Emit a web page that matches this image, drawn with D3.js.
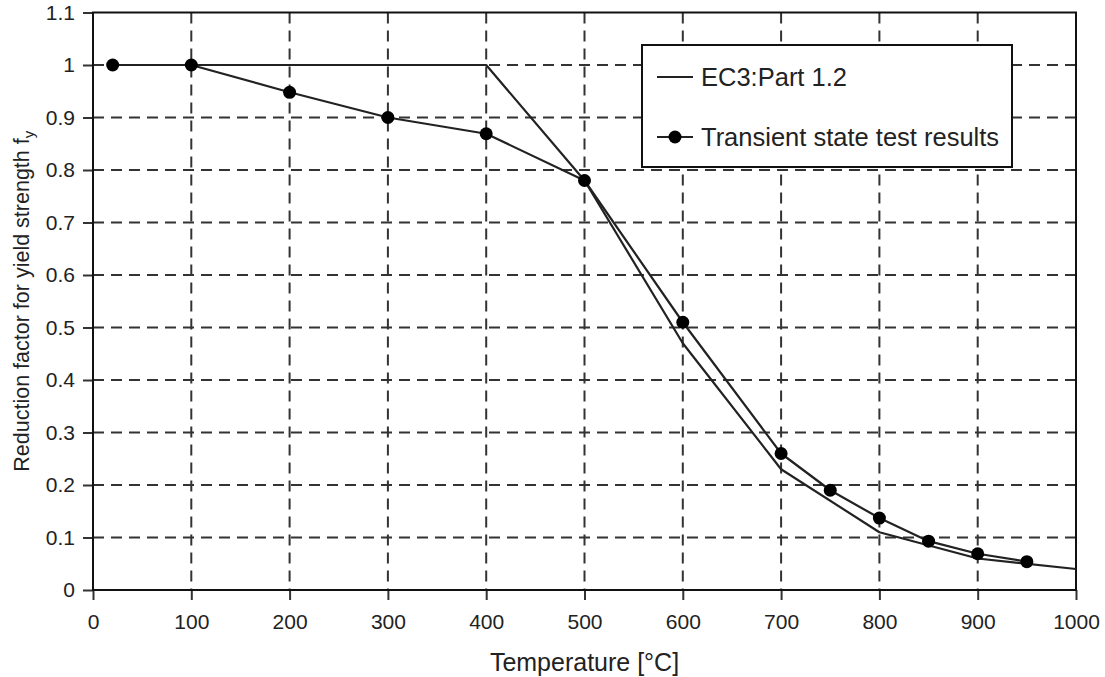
<!DOCTYPE html>
<html>
<head>
<meta charset="utf-8">
<script src="https://cdn.jsdelivr.net/npm/d3@7"></script>
<style>
  body { margin: 0; background: #fff; }
  svg text { font-family: "Liberation Sans", Arial, sans-serif; fill: #222; }
</style>
</head>
<body>
<div id="chart"></div>
<script>
// EC3 Part 1.2 reduction factor
var ec3Temp = [20, 100, 400, 500, 600, 700, 800, 900, 1000];
var ec3Value = [1, 1, 1, 0.78, 0.47, 0.23, 0.11, 0.06, 0.04];

// transient state test results
var testTemp = [20, 100, 200, 300, 400, 500, 600, 700, 750, 800, 850, 900, 950];
var testValue = [1, 1, 0.948, 0.90, 0.869, 0.78, 0.51, 0.26, 0.19, 0.137, 0.093, 0.069, 0.054];

var xTicks = [0, 100, 200, 300, 400, 500, 600, 700, 800, 900, 1000];
var yTicks = [0, 0.1, 0.2, 0.3, 0.4, 0.5, 0.6, 0.7, 0.8, 0.9, 1, 1.1];

var margin = {top: 12.5, right: 29, bottom: 87, left: 93},
    width = 1105 - margin.left - margin.right,
    height = 677 - margin.top - margin.bottom;

var x = d3.scaleLinear().domain([0, 1000]).range([0, width]);
var y = d3.scaleLinear().domain([0, 1.1]).range([height, 0]);

var svg = d3.select("#chart").append("svg")
    .attr("width", 1105)
    .attr("height", 677)
    .append("g")
    .attr("transform", "translate(" + margin.left + "," + margin.top + ")");

// dashed grid
svg.selectAll(".vgrid")
    .data(xTicks.slice(1, -1))
    .enter().append("line")
    .attr("x1", function (d) { return x(d); })
    .attr("x2", function (d) { return x(d); })
    .attr("y1", 0).attr("y2", height)
    .attr("stroke", "#333")
    .attr("stroke-width", 2)
    .attr("stroke-dasharray", "11,7");

svg.selectAll(".hgrid")
    .data(yTicks.slice(1, -1))
    .enter().append("line")
    .attr("y1", function (d) { return y(d); })
    .attr("y2", function (d) { return y(d); })
    .attr("x1", 0).attr("x2", width)
    .attr("stroke", "#333")
    .attr("stroke-width", 2)
    .attr("stroke-dasharray", "11,7");

// axes
var xAxis = svg.append("g")
    .attr("transform", "translate(0," + height + ")")
    .call(d3.axisBottom(x).tickValues(xTicks).tickFormat(d3.format("d")).tickSize(10).tickSizeOuter(0).tickPadding(14));

var yAxis = svg.append("g")
    .call(d3.axisLeft(y).tickValues(yTicks).tickFormat(d3.format("~g")).tickSize(10).tickSizeOuter(0).tickPadding(8));

[xAxis, yAxis].forEach(function (a) {
    a.select(".domain").remove();
    a.selectAll("line").attr("stroke", "#333").attr("stroke-width", 2);
    a.selectAll("text").style("font-size", "21px").attr("fill", "#222");
});

// plot frame
svg.append("rect")
    .attr("width", width).attr("height", height)
    .attr("fill", "none")
    .attr("stroke", "#111")
    .attr("stroke-width", 2);

var ec3Line = d3.line()
    .x(function (d, i) { return x(ec3Temp[i]); })
    .y(function (d) { return y(d); });

var testLine = d3.line()
    .x(function (d, i) { return x(testTemp[i]); })
    .y(function (d) { return y(d); });

svg.append("path")
    .datum(ec3Value)
    .attr("fill", "none")
    .attr("stroke", "#222")
    .attr("stroke-width", 2.2)
    .attr("stroke-linejoin", "round")
    .attr("d", ec3Line);

svg.append("path")
    .datum(testValue)
    .attr("fill", "none")
    .attr("stroke", "#222")
    .attr("stroke-width", 2.2)
    .attr("stroke-linejoin", "round")
    .attr("d", testLine);

svg.selectAll(".dot")
    .data(testValue)
    .enter().append("circle")
    .attr("cx", function (d, i) { return x(testTemp[i]); })
    .attr("cy", function (d) { return y(d); })
    .attr("r", 6.5)
    .attr("fill", "#000");

// legend
var legend = svg.append("g")
    .attr("transform", "translate(" + (642 - margin.left) + "," + (45 - margin.top) + ")");

legend.append("rect")
    .attr("width", 370).attr("height", 122)
    .attr("fill", "#fff")
    .attr("stroke", "#111")
    .attr("stroke-width", 2);

var legendItems = ["EC3:Part 1.2", "Transient state test results"];
legendItems.forEach(function (name, i) {
    var ly = 32 + i * 60;
    legend.append("line")
        .attr("x1", 15).attr("x2", 51)
        .attr("y1", ly).attr("y2", ly)
        .attr("stroke", "#222").attr("stroke-width", 2.2);
    if (i === 1)
        legend.append("circle").attr("cx", 33).attr("cy", ly).attr("r", 6.5).attr("fill", "#000");
    legend.append("text")
        .attr("x", 59).attr("y", ly)
        .attr("dy", "0.35em")
        .style("font-size", "25.5px")
        .text(name);
});

// axis labels
svg.append("text")
    .attr("x", width / 2)
    .attr("y", height + 81)
    .style("text-anchor", "middle")
    .style("font-size", "25px")
    .text("Temperature [°C]");

var yl = svg.append("text")
    .attr("transform", "rotate(-90)")
    .attr("x", 0 - height / 2)
    .attr("y", -64)
    .style("text-anchor", "middle")
    .style("font-size", "21.5px");
yl.append("tspan").text("Reduction factor for yield strength f");
yl.append("tspan").attr("dy", 5).style("font-size", "15px").text("y");
</script>
</body>
</html>
